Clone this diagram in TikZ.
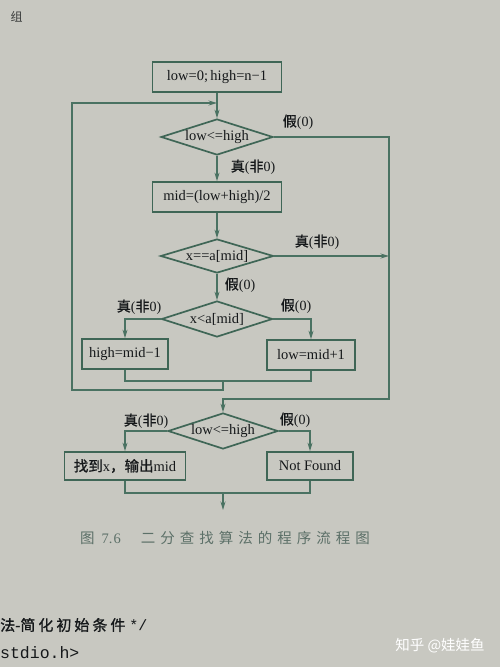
\documentclass[tikz,border=0pt]{standalone}
\usepackage{fontspec}
\setmainfont{Liberation Serif}
\newfontfamily\cjk{Noto Sans CJK SC}
\newfontfamily\cjkb[FakeBold=1.2]{Noto Sans CJK SC}
\newfontfamily\codefont{Liberation Mono}
\usetikzlibrary{shapes.geometric,arrows.meta}
\definecolor{paper}{HTML}{C8C8C1}
\definecolor{ink}{HTML}{3F6656}
\definecolor{linec}{HTML}{4A7262}
\definecolor{capc}{HTML}{5C7068}
\definecolor{txt}{HTML}{15181A}
\begin{document}
\begin{tikzpicture}[x=1pt,y=-1pt,
  box/.style={draw=ink,line width=1.7pt,rectangle,minimum height=30pt,inner sep=2pt,text=txt,font=\fontsize{14.5}{16}\selectfont},
  dia/.style={draw=ink,line width=1.7pt,diamond,aspect=3.1,minimum width=112pt,minimum height=36pt,inner sep=0pt,text=txt,font=\fontsize{14.5}{16}\selectfont},
  conn/.style={draw=linec,line width=1.1pt},
  arr/.style={conn,-{Stealth[length=8.5pt,width=5pt]}},
  lab/.style={text=txt,font=\fontsize{14}{15}\selectfont}]
\fill[paper] (0,0) rectangle (500,667);
\useasboundingbox (0,0) rectangle (500,667);
% nodes
\node[box,minimum width=129pt] (b1) at (217,77) {low=0;\,high=n−1};
\node[dia] (d1) at (217,137) {low<=high};
\node[box,minimum width=129pt] (b2) at (217,197) {mid=(low+high)/2};
\node[dia,minimum width=113pt,minimum height=34pt] (d2) at (217,256) {x==a[mid]};
\node[dia,minimum width=111pt] (d3) at (217,319) {x<a[mid]};
\node[box,minimum width=86pt] (b3) at (125,354) {high=mid−1};
\node[box,minimum width=88pt] (b4) at (311,355) {low=mid+1};
\node[dia,minimum width=110pt] (d4) at (223,431) {low<=high};
\node[box,minimum width=121pt,minimum height=28pt] (b5) at (125,466) {{\cjkb 找到}x{\cjkb ，输出}mid};
\node[box,minimum width=86pt,minimum height=28pt] (b6) at (310,466) {Not Found};
% coordinates
\coordinate (j1) at (217,103);
\coordinate (l2) at (72,103);
\coordinate (l1) at (72,390);
\coordinate (c2) at (223,390);
\coordinate (c1) at (223,381);
\coordinate (r1) at (389,137);
\coordinate (r3) at (389,256);
\coordinate (r2) at (389,399);
\coordinate (m2) at (223,399);
\coordinate (c3) at (223,493);
\coordinate (e) at (223,510);
% connectors
\draw[arr] (b1) -- (d1);
\draw[arr] (c1) -- (c2) -- (l1) -- (l2) -- (j1);
\draw[arr] (d1) -- (b2);
\draw[arr] (d1.east) -- (r1) -- (r2) -- (m2) -- (d4.north);
\draw[arr] (b2) -- (d2);
\draw[arr] (d2.east) -- (r3);
\draw[arr] (d2) -- (d3);
\draw[arr] (d3.west) -| (b3.north);
\draw[arr] (d3.east) -| (b4.north);
\draw[conn] (b3.south) |- (c1) -| (b4.south);
\draw[arr] (d4.west) -| (b5.north);
\draw[arr] (d4.east) -| (b6.north);
\draw[conn] (b5.south) |- (c3) -| (b6.south);
\draw[arr] (c3) -- (e);
% labels
\node[lab] (t1) at (253,167) {{\cjkb 真}({\cjkb 非}0)};
\node[lab] (f1) at (298,122) {{\cjkb 假}(0)};
\node[lab] (t2) at (317,242) {{\cjkb 真}({\cjkb 非}0)};
\node[lab] (f2) at (240,285) {{\cjkb 假}(0)};
\node[lab] (t3) at (139,307) {{\cjkb 真}({\cjkb 非}0)};
\node[lab] (f3) at (296,306) {{\cjkb 假}(0)};
\node[lab] (t4) at (146,421) {{\cjkb 真}({\cjkb 非}0)};
\node[lab] (f4) at (295,420) {{\cjkb 假}(0)};
% caption
\node[text=capc,font=\fontsize{14.5}{16}\selectfont] (cap) at (225,538)
  {{\cjk 图}\hspace{7pt}7.\hspace{1pt}6\hspace{20pt}{\cjk 二\hspace{5pt}分\hspace{5pt}查\hspace{5pt}找\hspace{5pt}算\hspace{5pt}法\hspace{5pt}的\hspace{5pt}程\hspace{5pt}序\hspace{5pt}流\hspace{5pt}程\hspace{5pt}图}};
% page text
\node[anchor=west,text=txt!80!paper,font=\fontsize{12}{14}\selectfont\cjk] (top) at (7,17) {组};
\node[anchor=west,text=txt,inner sep=0pt,font=\fontsize{15}{17}\selectfont] (p1) at (0,625)
  {{\cjkb 法-简\hspace{3pt}化\hspace{3pt}初\hspace{3pt}始\hspace{3pt}条\hspace{3pt}件}\hspace{4pt}{\codefont */}};
\node[anchor=west,text=txt,inner sep=0pt,font=\fontsize{16.5}{18}\selectfont\codefont] (p2) at (0,653) {stdio.h>};
\node[text=white,font=\fontsize{14.5}{17}\selectfont\cjk] (wm) at (440,646) {知乎 @娃娃鱼};
\end{tikzpicture}
\end{document}
